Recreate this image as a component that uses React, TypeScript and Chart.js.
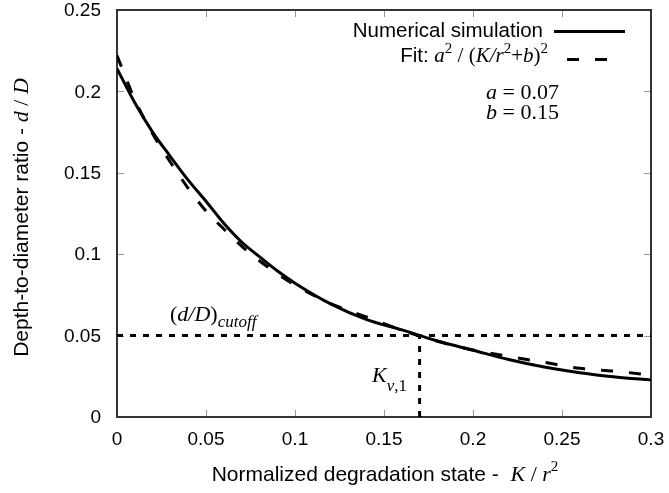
import React, { useEffect, useRef } from "react";
import { Chart, registerables } from "chart.js";

Chart.register(...registerables);

// ---- data ----
const kValues = [0, 0.01, 0.02, 0.03, 0.04, 0.05, 0.06, 0.07, 0.08, 0.09, 0.1, 0.12, 0.14, 0.16, 0.18, 0.2, 0.22, 0.24, 0.26, 0.28, 0.3];
const simulationDepth = [0.214, 0.193, 0.175, 0.16, 0.1455, 0.1325, 0.119, 0.1075, 0.0985, 0.0898, 0.0822, 0.0695, 0.06, 0.0535, 0.0467, 0.041, 0.0353, 0.0307, 0.0272, 0.0246, 0.0227];
const fitDepth = [0.222, 0.195, 0.174, 0.1565, 0.1405, 0.1265, 0.1155, 0.105, 0.096, 0.088, 0.081, 0.0697, 0.0615, 0.0533, 0.0465, 0.0412, 0.0372, 0.0336, 0.0299, 0.0281, 0.0258];
const xTicks = [0, 0.05, 0.1, 0.15, 0.2, 0.25, 0.3];
const xTickLabels = ["0", "0.05", "0.1", "0.15", "0.2", "0.25", "0.3"];
const yTicks = [0, 0.05, 0.1, 0.15, 0.2, 0.25];
const yTickLabels = ["0", "0.05", "0.1", "0.15", "0.2", "0.25"];
const cutoffRatio = 0.05;
const kv1 = 0.17;
const fitA = "0.07";
const fitB = "0.15";

const SANS = '"Liberation Sans", Arial, Helvetica, sans-serif';
const SERIF = '"Liberation Serif", "Times New Roman", serif';

type Run = { t: string; f: string; s: number; dy?: number; it?: boolean };

function fontOf(r: Run) {
  return `${r.it ? "italic " : ""}${r.s}px ${r.f}`;
}
function runsWidth(ctx: CanvasRenderingContext2D, runs: Run[]) {
  let w = 0;
  for (const r of runs) {
    ctx.font = fontOf(r);
    w += ctx.measureText(r.t).width;
  }
  return w;
}
function drawRuns(ctx: CanvasRenderingContext2D, runs: Run[], x: number, y: number, align: "left" | "right" | "center") {
  const w = runsWidth(ctx, runs);
  let cx = align === "left" ? x : align === "right" ? x - w : x - w / 2;
  ctx.textAlign = "left";
  ctx.textBaseline = "alphabetic";
  for (const r of runs) {
    ctx.font = fontOf(r);
    ctx.fillText(r.t, cx, y + (r.dy || 0));
    cx += ctx.measureText(r.t).width;
  }
}

const framePlugin = {
  id: "gnuframe",
  beforeDatasetsDraw(chart: any) {
    const { ctx, chartArea } = chart;
    const xs = chart.scales.x;
    const ys = chart.scales.y;
    ctx.save();
    ctx.strokeStyle = "#999";
    ctx.lineWidth = 1;
    const L = 7;
    ctx.beginPath();
    for (const t of xTicks) {
      const px = Math.round(xs.getPixelForValue(t)) + 0.5;
      ctx.moveTo(px, chartArea.bottom);
      ctx.lineTo(px, chartArea.bottom - L);
      ctx.moveTo(px, chartArea.top);
      ctx.lineTo(px, chartArea.top + L);
    }
    for (const t of yTicks) {
      const py = Math.round(ys.getPixelForValue(t)) + 0.5;
      ctx.moveTo(chartArea.left, py);
      ctx.lineTo(chartArea.left + L, py);
      ctx.moveTo(chartArea.right, py);
      ctx.lineTo(chartArea.right - L, py);
    }
    ctx.stroke();
    ctx.strokeStyle = "#333";
    ctx.lineWidth = 2;
    ctx.strokeRect(chartArea.left, chartArea.top, chartArea.right - chartArea.left, chartArea.bottom - chartArea.top);
    ctx.restore();
  },
  afterDraw(chart: any) {
    const { ctx, chartArea } = chart;
    const xs = chart.scales.x;
    const ys = chart.scales.y;
    ctx.save();
    ctx.fillStyle = "#000";
    // tick labels
    ctx.font = `19px ${SANS}`;
    ctx.textAlign = "right";
    ctx.textBaseline = "middle";
    yTicks.forEach((t, i) => {
      ctx.fillText(yTickLabels[i], chartArea.left - 16, ys.getPixelForValue(t) + 1);
    });
    ctx.textAlign = "center";
    xTicks.forEach((t, i) => {
      ctx.fillText(xTickLabels[i], xs.getPixelForValue(t), chartArea.bottom + 23);
    });

    // x title
    const cx = (chartArea.left + chartArea.right) / 2;
    drawRuns(ctx, [
      { t: "Normalized degradation state -  ", f: SANS, s: 21 },
      { t: "K", f: SERIF, s: 22, it: true },
      { t: " / ", f: SERIF, s: 22 },
      { t: "r", f: SERIF, s: 22, it: true },
      { t: "2", f: SERIF, s: 15, dy: -10 },
    ], cx + 1, 481, "center");

    // y title
    ctx.save();
    ctx.translate(28, (chartArea.top + chartArea.bottom) / 2 + 4);
    ctx.rotate(-Math.PI / 2);
    drawRuns(ctx, [
      { t: "Depth-to-diameter ratio - ", f: SANS, s: 21 },
      { t: "d", f: SERIF, s: 22, it: true },
      { t: " / ", f: SERIF, s: 22 },
      { t: "D", f: SERIF, s: 22, it: true },
    ], 0, 0, "center");
    ctx.restore();

    // legend
    drawRuns(ctx, [{ t: "Numerical simulation", f: SANS, s: 20.5 }], 543, 37, "right");
    drawRuns(ctx, [
      { t: "Fit: ", f: SANS, s: 20.5 },
      { t: "a", f: SERIF, s: 21, it: true },
      { t: "2", f: SERIF, s: 15, dy: -9 },
      { t: " / (", f: SERIF, s: 21 },
      { t: "K/r", f: SERIF, s: 21, it: true },
      { t: "2", f: SERIF, s: 15, dy: -9 },
      { t: "+", f: SERIF, s: 21 },
      { t: "b", f: SERIF, s: 21, it: true },
      { t: ")", f: SERIF, s: 21 },
      { t: "2", f: SERIF, s: 15, dy: -9 },
    ], 548, 62, "right");
    ctx.strokeStyle = "#000";
    ctx.lineWidth = 3;
    ctx.beginPath();
    ctx.moveTo(554, 31.5);
    ctx.lineTo(625, 31.5);
    ctx.stroke();
    ctx.setLineDash([12, 16]);
    ctx.beginPath();
    ctx.moveTo(567, 59.5);
    ctx.lineTo(607, 59.5);
    ctx.stroke();
    ctx.setLineDash([]);

    drawRuns(ctx, [
      { t: "a", f: SERIF, s: 22, it: true },
      { t: " = " + fitA, f: SERIF, s: 22 },
    ], 486, 99, "left");
    drawRuns(ctx, [
      { t: "b", f: SERIF, s: 22, it: true },
      { t: " = " + fitB, f: SERIF, s: 22 },
    ], 486, 119, "left");

    // annotations
    drawRuns(ctx, [
      { t: "(", f: SERIF, s: 22 },
      { t: "d/D", f: SERIF, s: 22, it: true },
      { t: ")", f: SERIF, s: 22 },
      { t: "cutoff", f: SERIF, s: 17, it: true, dy: 6 },
    ], 170, 321, "left");
    drawRuns(ctx, [
      { t: "K", f: SERIF, s: 22, it: true },
      { t: "v", f: SERIF, s: 17, it: true, dy: 9 },
      { t: ",1", f: SERIF, s: 17, dy: 9 },
    ], 372, 382, "left");
    ctx.restore();
  },
};

export default function App() {
  const ref = useRef<HTMLCanvasElement | null>(null);
  useEffect(() => {
    if (!ref.current) return;
    const chart = new Chart(ref.current, {
      type: "line",
      data: {
        datasets: [
          {
            label: "Numerical simulation",
            data: kValues.map((k, i) => ({ x: k, y: simulationDepth[i] })),
            borderColor: "#000",
            borderWidth: 3,
            pointRadius: 0,
            cubicInterpolationMode: "monotone",
          },
          {
            label: "Fit",
            data: kValues.map((k, i) => ({ x: k, y: fitDepth[i] })),
            borderColor: "#000",
            borderWidth: 3,
            borderDash: [12, 16],
            pointRadius: 0,
            cubicInterpolationMode: "monotone",
          },
          {
            label: "cutoff",
            data: [{ x: 0, y: cutoffRatio }, { x: 0.3, y: cutoffRatio }],
            borderColor: "#000",
            borderWidth: 3,
            borderDash: [6, 7],
            pointRadius: 0,
          },
          {
            label: "Kv1",
            data: [{ x: kv1, y: 0 }, { x: kv1, y: cutoffRatio }],
            borderColor: "#000",
            borderWidth: 3,
            borderDash: [6, 7],
            pointRadius: 0,
          },
        ],
      },
      options: {
        responsive: false,
        animation: false,
        layout: { padding: { top: 10, right: 18, left: 0, bottom: 0 } },
        plugins: { legend: { display: false }, tooltip: { enabled: false } },
        scales: {
          x: {
            type: "linear",
            min: 0,
            max: 0.3,
            ticks: { display: false },
            grid: { display: false },
            border: { display: false },
            afterFit: (axis: any) => { axis.height = 76; },
          },
          y: {
            type: "linear",
            min: 0,
            max: 0.25,
            ticks: { display: false },
            grid: { display: false },
            border: { display: false },
            afterFit: (axis: any) => { axis.width = 117; },
          },
        },
      } as any,
      plugins: [framePlugin],
    });
    return () => chart.destroy();
  }, []);
  return (
    <div style={{ position: "absolute", left: 0, top: 0, width: 669, height: 493, background: "#fff" }}>
      <canvas ref={ref} width={669} height={493} style={{ display: "block" }} />
    </div>
  );
}
